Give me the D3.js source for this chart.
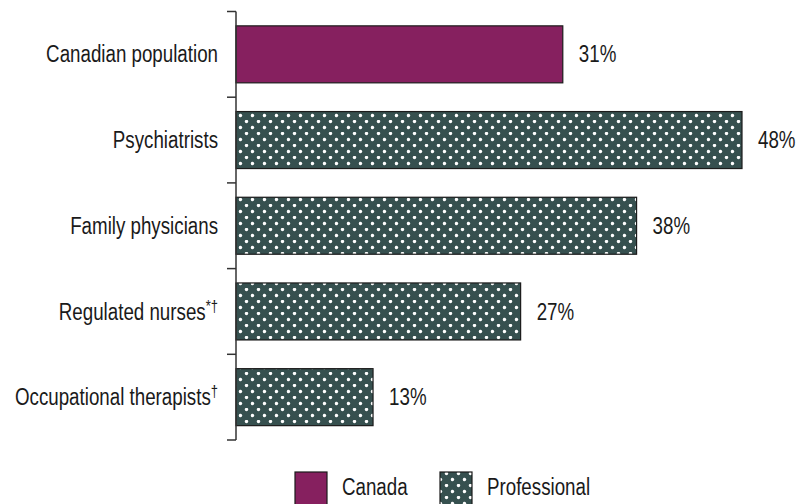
<!DOCTYPE html>
<html>
<head>
<meta charset="utf-8">
<script src="https://cdn.jsdelivr.net/npm/d3@7"></script>
<style>
  body { margin: 0; background: #fff; }
  svg { display: block; font-family: "Liberation Sans", Arial, sans-serif; }
</style>
</head>
<body>
<svg id="chart"></svg>
<script>
// data
const categories = ["Canadian population", "Psychiatrists", "Family physicians", "Regulated nurses", "Occupational therapists"];
const labelMarks = ["", "", "", "*\u2020", "\u2020"];
const values = [31, 48, 38, 27, 13];
const groups = ["Canada", "Professional", "Professional", "Professional", "Professional"];
const legendItems = ["Canada", "Professional"];

const width = 797, height = 504;
const margin = { top: 11.5, right: 55, bottom: 64, left: 236 };
const narrow = 0.815; // the reference uses a narrow face; squeeze Liberation Sans

const svg = d3.select("#chart").attr("width", width).attr("height", height);

// dotted fill for professional bars
const defs = svg.append("defs");
const pat = defs.append("pattern")
  .attr("id", "dots")
  .attr("patternUnits", "userSpaceOnUse")
  .attr("width", 12).attr("height", 12);
pat.append("rect").attr("width", 12).attr("height", 12).attr("fill", "#36504f");
[[6.5, 1.5], [0.5, 7.5], [12.5, 7.5]].forEach(([cx, cy]) => {
  pat.append("circle").attr("cx", cx).attr("cy", cy).attr("r", 1.7).attr("fill", "#fff");
});

const fills = { Canada: "#86205f", Professional: "url(#dots)" };

const x = d3.scaleLinear().domain([0, 48]).range([margin.left, 742]);
const y = d3.scaleBand()
  .domain(categories)
  .range([margin.top, height - margin.bottom])
  .paddingInner(0.335)
  .paddingOuter(0.1675);

const rows = categories.map((c, i) => ({ c, v: values[i], g: groups[i], mark: labelMarks[i] }));

// bars
svg.append("g").selectAll("rect")
  .data(rows)
  .join("rect")
  .attr("x", x(0))
  .attr("y", d => y(d.c))
  .attr("width", d => x(d.v) - x(0))
  .attr("height", y.bandwidth())
  .attr("fill", d => fills[d.g])
  .attr("stroke", "#1b1b1b")
  .attr("stroke-width", 1.2);

// value labels
svg.append("g").selectAll("text")
  .data(rows)
  .join("text")
  .attr("transform", d => `translate(${x(d.v) + 16},${y(d.c) + y.bandwidth() / 2}) scale(${narrow},1)`)
  .attr("dy", "0.35em")
  .attr("font-size", 23)
  .attr("fill", "#1a1a1a")
  .text(d => d.v + "%");

// axis line with ticks at band boundaries
const half = (y.step() - y.bandwidth()) / 2;
const bounds = categories.map(c => y(c) - half).concat([y(categories[categories.length - 1]) + y.bandwidth() + half]);
const axis = svg.append("g").attr("stroke", "#333").attr("stroke-width", 1.5);
axis.append("line")
  .attr("x1", x(0)).attr("x2", x(0))
  .attr("y1", bounds[0]).attr("y2", bounds[bounds.length - 1]);
axis.selectAll("line.tick")
  .data(bounds)
  .join("line")
  .attr("class", "tick")
  .attr("x1", x(0) - 9).attr("x2", x(0))
  .attr("y1", d => d).attr("y2", d => d);

// category labels
const lab = svg.append("g").selectAll("text")
  .data(rows)
  .join("text")
  .attr("transform", d => `translate(218,${y(d.c) + y.bandwidth() / 2}) scale(${narrow},1)`)
  .attr("dy", "0.35em")
  .attr("text-anchor", "end")
  .attr("font-size", 23)
  .attr("fill", "#1a1a1a");
lab.append("tspan").text(d => d.c);
lab.filter(d => d.mark)
  .append("tspan")
  .attr("font-size", 16)
  .attr("dy", "-0.5em")
  .text(d => d.mark);

// legend
const legendX = [295, 440];
const leg = svg.append("g").selectAll("g")
  .data(legendItems)
  .join("g")
  .attr("transform", (d, i) => `translate(${legendX[i]},472)`);
leg.append("rect")
  .attr("width", 32).attr("height", 34)
  .attr("fill", d => fills[d])
  .attr("stroke", "#1b1b1b")
  .attr("stroke-width", 1.2);
leg.append("text")
  .attr("transform", `translate(47,23) scale(${narrow},1)`)
  .attr("font-size", 23)
  .attr("fill", "#1a1a1a")
  .text(d => d);
</script>
</body>
</html>
